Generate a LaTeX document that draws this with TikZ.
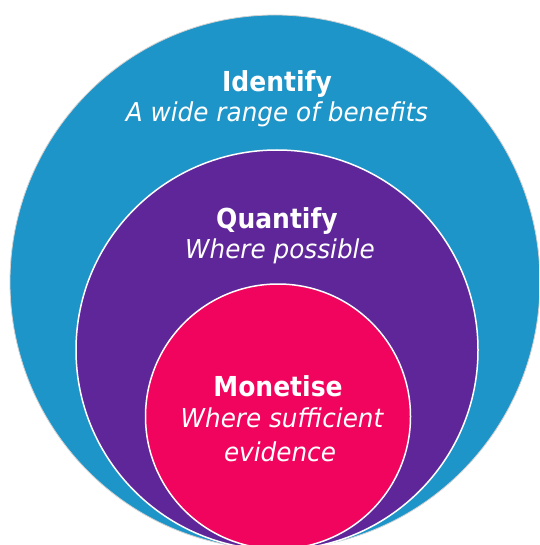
\documentclass[tikz,border=0pt]{standalone}
\usepackage{fontspec}
\usepackage{graphicx}
\setmainfont{DejaVu Sans}
\definecolor{cblue}{RGB}{30,149,200}
\definecolor{cpurple}{RGB}{94,38,153}
\definecolor{cpink}{RGB}{240,4,94}
\newcommand\ttlbox[1]{\scalebox{0.91}[1]{#1}}
\newcommand\subbox[1]{\scalebox{0.95}[1]{#1}}
\begin{document}
\begin{tikzpicture}[x=1pt,y=-1pt,
  title/.style={text=white,font=\fontsize{27.5}{33}\selectfont\bfseries,anchor=base,inner sep=0pt},
  sub/.style={text=white,font=\fontsize{26}{31}\selectfont\itshape,anchor=base,inner sep=0pt},
  ring/.style={draw=white,line width=1.5pt}]
\useasboundingbox (0,0) rectangle (539,545);
\clip (0,0) rectangle (539,545);
\fill[white] (0,0) rectangle (539,545);
\draw[fill=cblue,draw=black!18,line width=0.8pt] (275,282) ellipse [x radius=265, y radius=267];
\draw[ring,fill=cpurple] (277,350) ellipse [x radius=201, y radius=200];
\draw[ring,fill=cpink] (278,416.5) ellipse [x radius=132.5, y radius=132.5];
\node[title] (t1) at (277,91.5) {\ttlbox{Identify}};
\node[sub] (s1) at (277,122) {\subbox{A wide range of benefits}};
\node[title] (t2) at (277,228.5) {\ttlbox{Quantify}};
\node[sub] (s2) at (280,258) {\subbox{Where possible}};
\node[title] (t3) at (278,396) {\ttlbox{Monetise}};
\node[sub] (s3) at (282,427.5) {\subbox{Where sufficient}};
\node[sub] (s4) at (280,461.5) {\subbox{evidence}};
\end{tikzpicture}
\end{document}
